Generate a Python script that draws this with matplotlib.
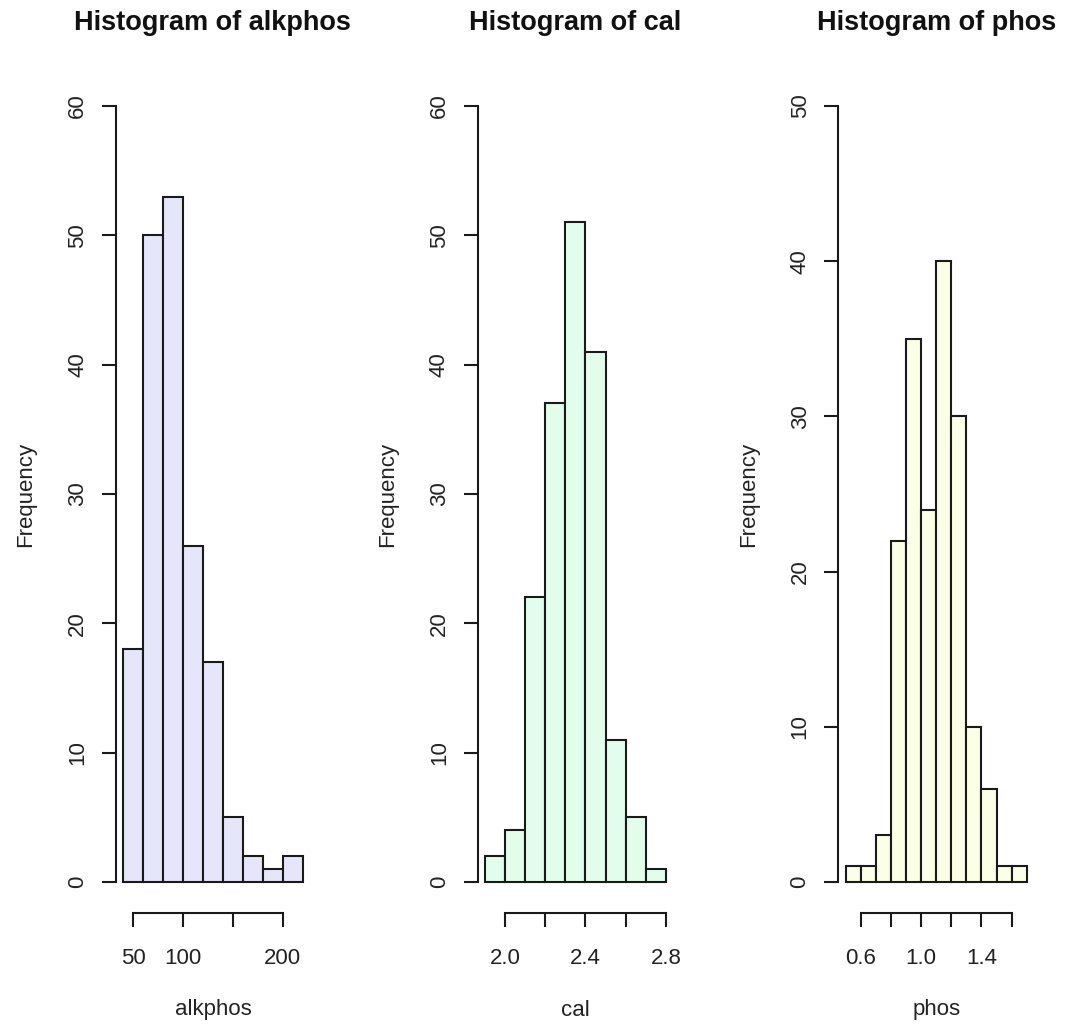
import matplotlib
matplotlib.use("Agg")
import matplotlib.pyplot as plt
import numpy as np

plt.rcParams['font.family'] = ['Liberation Sans', 'DejaVu Sans']

# ---- data ----
alkphos_breaks = [40, 60, 80, 100, 120, 140, 160, 180, 200, 220]
alkphos_counts = [18, 50, 53, 26, 17, 5, 2, 1, 2]
alkphos_xticks = [50, 100, 150, 200]
alkphos_xlabels = ['50', '100', '', '200']
alkphos_yticks = [0, 10, 20, 30, 40, 50, 60]

cal_breaks = [1.9, 2.0, 2.1, 2.2, 2.3, 2.4, 2.5, 2.6, 2.7, 2.8]
cal_counts = [2, 4, 22, 37, 51, 41, 11, 5, 1]
cal_xticks = [2.0, 2.2, 2.4, 2.6, 2.8]
cal_xlabels = ['2.0', '', '2.4', '', '2.8']
cal_yticks = [0, 10, 20, 30, 40, 50, 60]

phos_breaks = [0.5, 0.6, 0.7, 0.8, 0.9, 1.0, 1.1, 1.2, 1.3, 1.4, 1.5, 1.6, 1.7]
phos_counts = [1, 1, 3, 22, 35, 24, 40, 30, 10, 6, 1, 1]
phos_xticks = [0.6, 0.8, 1.0, 1.2, 1.4, 1.6]
phos_xlabels = ['0.6', '', '1.0', '', '1.4', '']
phos_yticks = [0, 10, 20, 30, 40, 50]

panels = [
    dict(name='alkphos', breaks=alkphos_breaks, counts=alkphos_counts,
         xticks=alkphos_xticks, xlabels=alkphos_xlabels, yticks=alkphos_yticks,
         color='#E6E6FA', left=115.8, right=310.0),
    dict(name='cal', breaks=cal_breaks, counts=cal_counts,
         xticks=cal_xticks, xlabels=cal_xlabels, yticks=cal_yticks,
         color='#E3FDEC', left=477.6, right=673.2),
    dict(name='phos', breaks=phos_breaks, counts=phos_counts,
         xticks=phos_xticks, xlabels=phos_xlabels, yticks=phos_yticks,
         color='#FAFFE6', left=838.4, right=1034.0),
]

W, H = 1065, 1027
fig = plt.figure(figsize=(W / 100, H / 100), dpi=100)
top_px, bot_px = 75, 913
edge = '#1a1a1a'
fs = 16

for p in panels:
    ax = fig.add_axes([p['left'] / W, 1 - bot_px / H,
                       (p['right'] - p['left']) / W, (bot_px - top_px) / H])
    b = np.array(p['breaks'])
    c = np.array(p['counts'])
    ax.bar(b[:-1], c, width=np.diff(b), align='edge', color=p['color'],
           edgecolor=edge, linewidth=1.5)
    rng = b[-1] - b[0]
    ax.set_xlim(b[0] - 0.04 * rng, b[-1] + 0.04 * rng)
    ymax = p['yticks'][-1]
    ax.set_ylim(-0.04 * ymax, ymax * 1.04)

    for s in ['top', 'right']:
        ax.spines[s].set_visible(False)
    for s in ['left', 'bottom']:
        ax.spines[s].set_linewidth(1.5)
        ax.spines[s].set_color(edge)
    ax.spines['left'].set_bounds(0, ymax)
    ax.spines['bottom'].set_bounds(p['xticks'][0], p['xticks'][-1])

    ax.set_xticks(p['xticks'])
    ax.set_xticklabels(p['xlabels'])
    ax.set_yticks(p['yticks'])
    ax.set_yticklabels([str(v) for v in p['yticks']], rotation=90, va='center')
    ax.tick_params(axis='both', length=10, width=1.5, color=edge,
                   labelsize=fs, labelcolor='#222222')
    ax.tick_params(axis='x', pad=15)
    ax.tick_params(axis='y', pad=10)

    wpx = p['right'] - p['left']
    hpx = bot_px - top_px
    ax.set_xlabel(p['name'], fontsize=fs, color='#222222', va='center')
    ax.xaxis.set_label_coords(0.5, (bot_px - 1010) / hpx)
    ax.set_ylabel('Frequency', fontsize=fs, color='#222222', va='center')
    ax.yaxis.set_label_coords(-90 / wpx, 0.5)
    ax.text(0.5, 1 + (top_px - 23) / hpx, 'Histogram of ' + p['name'],
            transform=ax.transAxes, ha='center', va='center',
            fontsize=19.5, fontweight='bold', color='#111111')

fig.savefig('out.png', dpi=100)
